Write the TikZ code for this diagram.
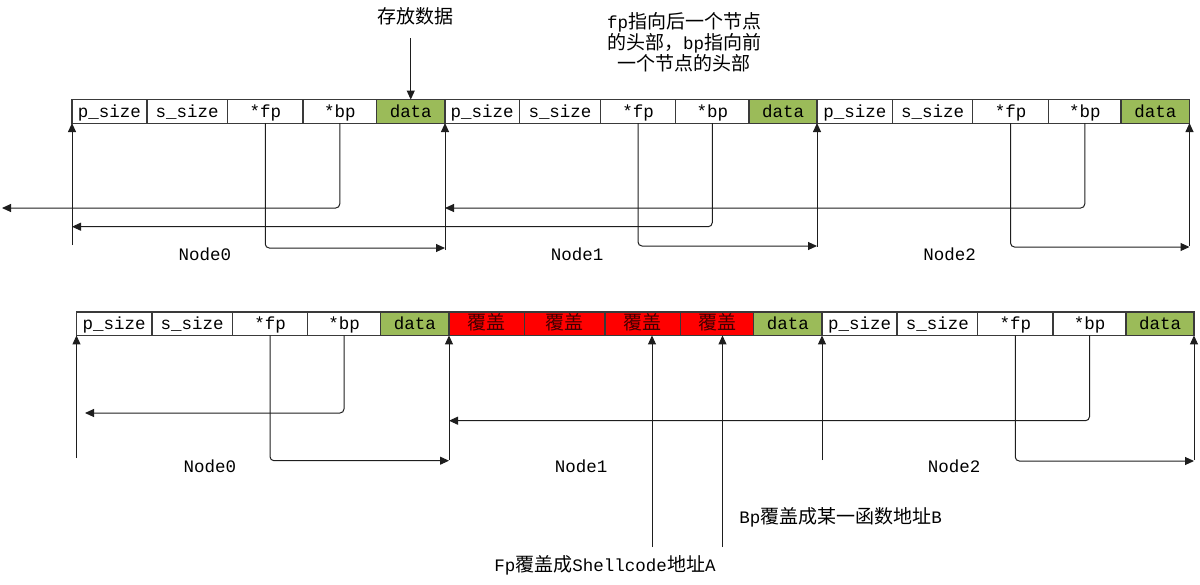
\documentclass[tikz,border=0pt]{standalone}
\usepackage{fontspec}
\setmainfont{Liberation Mono}
\newfontfamily\cjk{Noto Sans CJK SC}
\usetikzlibrary{arrows.meta,calc}
\definecolor{dgreen}{HTML}{9BBB59}
\definecolor{cellline}{HTML}{3A3A3A}
\definecolor{lineblack}{HTML}{1E1E1E}
\newcommand\zhtext[1]{{\cjk\fontsize{19}{22}\selectfont #1}}
\tikzset{
 cell/.style={draw=cellline, line width=1.1pt, inner sep=0pt, outer sep=0pt, minimum height=23.5pt, anchor=west, font=\fontsize{17.5}{18}\selectfont, text height=15pt, text depth=3pt},
 datacell/.style={cell, fill=dgreen},
 redcell/.style={cell, fill=red, text=black!75!red},
 arr/.style={draw=lineblack, line width=1pt, -{Triangle[length=9pt,width=8pt]}},
 elbow/.style={arr, rounded corners=4pt},
 lbl/.style={font=\fontsize{17.5}{18}\selectfont, inner sep=0pt},
 cn/.style={font=\fontsize{17.5}{22}\selectfont, inner sep=0pt, align=center}
}
\begin{document}
\begin{tikzpicture}[x=1pt,y=-1pt]
\useasboundingbox (0,0) rectangle (1200,584);
% ---------- top row ----------
\node[cell, minimum width=75pt]   (t1)  at (72,111.3)    {p\_size};
\node[cell, minimum width=80.5pt] (t2)  at (147,111.3)   {s\_size};
\node[cell, minimum width=75.5pt] (t3)  at (227.5,111.3) {*fp};
\node[cell, minimum width=73.5pt] (t4)  at (303,111.3)   {*bp};
\node[datacell, minimum width=68.5pt] (t5) at (376.5,111.3) {data};
\node[cell, minimum width=74.5pt] (t6)  at (445,111.3)   {p\_size};
\node[cell, minimum width=81pt]   (t7)  at (519.5,111.3) {s\_size};
\node[cell, minimum width=75pt]   (t8)  at (600.5,111.3) {*fp};
\node[cell, minimum width=73.5pt] (t9)  at (675.5,111.3) {*bp};
\node[datacell, minimum width=68pt] (t10) at (749,111.3) {data};
\node[cell, minimum width=75.5pt] (t11) at (817,111.3)   {p\_size};
\node[cell, minimum width=80pt]   (t12) at (892.5,111.3) {s\_size};
\node[cell, minimum width=76pt]   (t13) at (972.5,111.3) {*fp};
\node[cell, minimum width=72.5pt] (t14) at (1048.5,111.3) {*bp};
\node[datacell, minimum width=68.5pt] (t15) at (1121,111.3) {data};

% top annotations
\node[cn] (store) at (415.5,16) {\zhtext{存放数据}};
\coordinate (storeA) at (410.75,38);
\draw[arr] (storeA) -- (t5.north);
\node[cn] (expl) at (684,42) {fp\zhtext{指向后一个节点}\\[-1pt]\zhtext{的头部，}bp\zhtext{指向前}\\[-1pt]\zhtext{一个节点的头部}};

% top vertical arrows
\coordinate (tu0) at (72,245);
\coordinate (tu1) at (445,250);
\coordinate (tu2) at (817,247);
\coordinate (tu3) at (1189.5,246);
\draw[arr] (tu0) -- (t1.south west);
\draw[arr] (tu1) -- (t5.south east);
\draw[arr] (tu2) -- (t10.south east);
\draw[arr] (tu3) -- (t15.south east);

% top bp/fp links
\coordinate (tbp0) at (2,208);
\draw[elbow] (t4.south) -- (t4.south |- tbp0) -- (tbp0);
\draw[elbow] (t9.south) -- (t9.south |- 0,226.7) -- (t1.south west |- 0,226.7);
\draw[elbow] (t14.south) -- (t14.south |- 0,208) -- (t5.south east |- 0,208);
\draw[elbow] (t3.south) -- (t3.south |- 0,248) -- (t5.south east |- 0,248);
\draw[elbow] (t8.south) -- (t8.south |- 0,246) -- (t10.south east |- 0,246);
\draw[elbow] (t13.south) -- (t13.south |- 0,247) -- (t15.south east |- 0,247);

\node[lbl] (tn0) at (205,254) {Node0};
\node[lbl] (tn1) at (577,254) {Node1};
\node[lbl] (tn2) at (949.5,254) {Node2};

% ---------- bottom row ----------
\node[cell, minimum width=75.5pt] (b1)  at (76.5,323.7)  {p\_size};
\node[cell, minimum width=80.5pt] (b2)  at (152,323.7)   {s\_size};
\node[cell, minimum width=75pt]   (b3)  at (232.5,323.7) {*fp};
\node[cell, minimum width=73pt]   (b4)  at (307.5,323.7) {*bp};
\node[datacell, minimum width=68.5pt] (b5) at (380.5,323.7) {data};
\node[redcell, minimum width=75.5pt] (b6) at (449,323.7) {\zhtext{覆盖}};
\node[redcell, minimum width=80.5pt] (b7) at (524.5,323.7) {\zhtext{覆盖}};
\node[redcell, minimum width=75.5pt] (b8) at (605,323.7) {\zhtext{覆盖}};
\node[redcell, minimum width=73pt]   (b9) at (680.5,323.7) {\zhtext{覆盖}};
\node[datacell, minimum width=68.5pt] (b10) at (753.5,323.7) {data};
\node[cell, minimum width=75pt]   (b11) at (822,323.7)   {p\_size};
\node[cell, minimum width=80.5pt] (b12) at (897,323.7)   {s\_size};
\node[cell, minimum width=75.5pt] (b13) at (977.5,323.7) {*fp};
\node[cell, minimum width=73pt]   (b14) at (1053,323.7)  {*bp};
\node[datacell, minimum width=68pt] (b15) at (1126,323.7) {data};

% bottom vertical arrows
\coordinate (bu0) at (76.5,458);
\coordinate (bu1) at (449,460);
\coordinate (bu2) at (822,460);
\coordinate (bu3) at (1194,460);
\coordinate (fa) at (652,547);
\coordinate (ba) at (722.5,547);
\draw[arr] (bu0) -- (b1.south west);
\draw[arr] (bu1) -- (b5.south east);
\draw[arr] (bu2) -- (b10.south east);
\draw[arr] (bu3) -- (b15.south east);
\draw[arr] (fa) -- (fa |- b8.south);
\draw[arr] (ba) -- (ba |- b9.south);

% bottom bp/fp links
\coordinate (bbp0) at (85,413);
\draw[elbow] (b4.south) -- (b4.south |- bbp0) -- (bbp0);
\draw[elbow] (b3.south) -- (b3.south |- 0,460.7) -- (b5.south east |- 0,460.7);
\draw[elbow] (b14.south) -- (b14.south |- 0,420.7) -- (b5.south east |- 0,420.7);
\draw[elbow] (b13.south) -- (b13.south |- 0,461) -- (b15.south east |- 0,461);

\node[lbl] (bn0) at (210,466.5) {Node0};
\node[lbl] (bn1) at (581,466.5) {Node1};
\node[lbl] (bn2) at (954,466.5) {Node2};

\node[cn] (bpnote) at (840.5,517) {Bp\zhtext{覆盖成某一函数地址}B};
\node[cn] (fpnote) at (605,565) {Fp\zhtext{覆盖成}Shellcode\zhtext{地址}A};
\end{tikzpicture}
\end{document}
